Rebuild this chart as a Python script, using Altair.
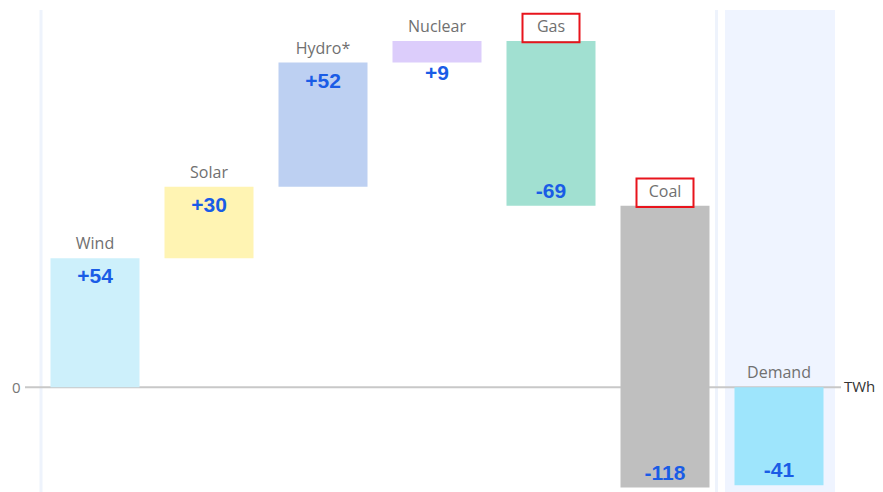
import altair as alt
import pandas as pd

categories = ["Wind", "Solar", "Hydro*", "Nuclear", "Gas", "Coal", "Demand"]
values = [54, 30, 52, 9, -69, -118, -41]
colors = ["#cdf0fb", "#fff4b3", "#bdd0f2", "#dccdfb", "#a1e0d1", "#bfbfbf", "#9ee5fc"]
is_total = [False, False, False, False, False, False, True]
highlight = ["Gas", "Coal"]
y_ticks = [0]

rows = []
cum = 0
for i, (c, v, t) in enumerate(zip(categories, values, is_total)):
    if t:
        start, end = 0, v
    else:
        start, end = cum, cum + v
        cum = end
    rows.append({
        "cat": c, "value": v, "start": start, "end": end,
        "top": max(start, end), "label": f"{v:+d}",
        "small": abs(v) < 15, "hl": c in highlight, "order": i,
    })
df = pd.DataFrame(rows)

W, H = 798, 480
xs = alt.X("cat:N", sort=categories, axis=None,
           scale=alt.Scale(paddingInner=0.22, paddingOuter=0.11))
yscale = alt.Scale(domain=[-43, 158], nice=False, zero=False)

base = alt.Chart(df)

panel = alt.Chart(pd.DataFrame({"a": [0]})).mark_rect(color="#eff4ff", clip=False).encode(
    x=alt.value(687), x2=alt.value(797), y=alt.value(0), y2=alt.value(H + 4))
line_left = alt.Chart(pd.DataFrame({"a": [0]})).mark_rule(color="#eef3fc", strokeWidth=3, clip=False).encode(
    x=alt.value(3), y=alt.value(0), y2=alt.value(H + 4))
line_sep = alt.Chart(pd.DataFrame({"a": [0]})).mark_rule(color="#eef3fc", strokeWidth=3, clip=False).encode(
    x=alt.value(678.5), y=alt.value(0), y2=alt.value(H + 4))

zero = alt.Chart(pd.DataFrame({"y": y_ticks})).mark_rule(color="#c8c8c8", strokeWidth=2, clip=False).encode(
    y=alt.Y("y:Q", scale=yscale,
            axis=alt.Axis(values=y_ticks, title=None, domain=False, ticks=False, grid=False,
                          labelColor="#777777", labelFontSize=15, labelPadding=18,
                          labelFont="Open Sans")),
    x=alt.value(-13), x2=alt.value(W + 5))

twh = alt.Chart(pd.DataFrame({"y": y_ticks})).mark_text(
    text="TWh", align="left", baseline="middle", fontSize=15, color="#333333",
    font="Open Sans", clip=False).encode(
    y=alt.Y("y:Q", scale=yscale), x=alt.value(W + 8))

bars = base.mark_bar(size=89).encode(
    x=xs,
    y=alt.Y("start:Q", scale=yscale),
    y2="end:Q",
    color=alt.Color("cat:N", scale=alt.Scale(domain=categories, range=colors), legend=None),
)

cat_labels = base.mark_text(dy=-14, fontSize=16, color="#707070", font="Open Sans",
                            baseline="middle").encode(
    x=xs, y=alt.Y("top:Q", scale=yscale), text="cat:N")

val_common = dict(fontSize=21, fontWeight="bold", color="#1a5ce6", font="Liberation Sans",
                  baseline="middle")
val_pos = base.transform_filter("datum.value > 0 && !datum.small").mark_text(dy=19, **val_common).encode(
    x=xs, y=alt.Y("end:Q", scale=yscale), text="label:N")
val_small = base.transform_filter("datum.value > 0 && datum.small").mark_text(dy=11, **val_common).encode(
    x=xs, y=alt.Y("start:Q", scale=yscale), text="label:N")
val_neg = base.transform_filter("datum.value < 0").mark_text(dy=-14, **val_common).encode(
    x=xs, y=alt.Y("end:Q", scale=yscale), text="label:N")

boxes = base.transform_filter("datum.hl").mark_point(
    shape="M-1,-0.5H1V0.5H-1Z", size=57 * 57, filled=False, stroke="#e8141c",
    strokeWidth=2, opacity=1, yOffset=-13).encode(
    x=xs, y=alt.Y("top:Q", scale=yscale))

chart = alt.layer(panel, line_left, line_sep, zero, twh, bars, cat_labels,
                  val_pos, val_small, val_neg, boxes).properties(
    width=W, height=H, autosize="none",
    padding={"left": 30, "top": 2, "right": 39, "bottom": 2},
).configure_view(strokeWidth=0)

chart.save("out.html", embed_options={"renderer": "svg", "actions": False})
